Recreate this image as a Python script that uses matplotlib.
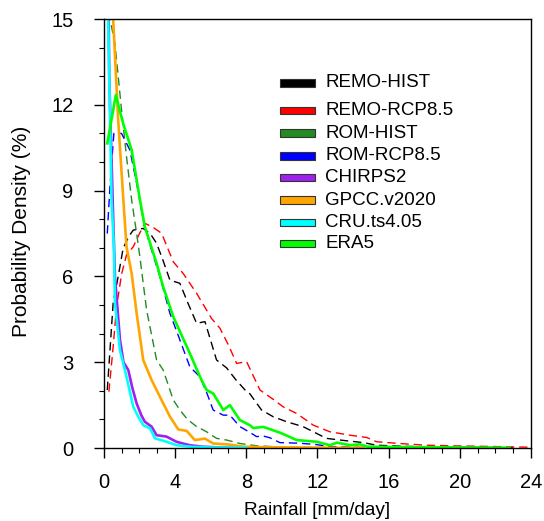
import matplotlib
matplotlib.use("Agg")
import matplotlib.pyplot as plt
from matplotlib.patches import Rectangle
from matplotlib.ticker import MultipleLocator

plt.rcParams["font.family"] = ["Liberation Sans", "DejaVu Sans"]

# --- data (rainfall mm/day, probability density %) ---
remo_hist_x = [0.19, 0.52, 0.8, 1.08, 1.4, 1.65, 2.2, 2.6, 2.96, 3.3, 3.71, 4.27, 4.7, 5.21, 5.68, 6.33,
               6.9, 7.4, 8.02, 8.2, 8.86, 9.5, 10.27, 11.19, 11.96, 12.5, 13.27, 14.6, 15.3, 17.0, 18.5,
               20.4, 22.0, 23.0]
remo_hist_y = [2.03, 5.07, 5.99, 6.98, 7.4, 7.62, 7.68, 7.5, 7.16, 6.6, 5.87, 5.76, 5.1, 4.36, 4.42, 3.08,
               2.8, 2.4, 1.97, 1.9, 1.33, 1.1, 0.92, 0.75, 0.51, 0.34, 0.28, 0.19, 0.1, 0.06, 0.04,
               0.03, 0.02, 0.01]

remo_rcp_x = [0.28, 0.5, 0.71, 1.0, 1.27, 1.65, 2.0, 2.3, 2.8, 3.24, 3.9, 4.46, 5.21, 6.05, 6.52, 7.0,
              7.46, 8.02, 8.77, 9.52, 10.08, 10.83, 11.77, 12.7, 13.83, 14.77, 15.33, 16.6, 18.1, 19.4,
              21.3, 23.0, 23.9]
remo_rcp_y = [1.97, 3.4, 4.94, 6.1, 6.75, 7.04, 7.5, 7.86, 7.7, 7.51, 6.51, 6.1, 5.41, 4.53, 4.19, 3.6,
              2.96, 3.02, 2.03, 1.7, 1.44, 1.21, 0.8, 0.57, 0.45, 0.37, 0.22, 0.16, 0.1, 0.08,
              0.06, 0.04, 0.03]

rom_hist_x = [0.2, 0.34, 0.62, 0.99, 1.27, 1.56, 1.84, 2.02, 2.4, 2.96, 3.33, 3.9, 4.27, 4.7, 5.21, 5.77,
              6.33, 6.9, 7.64, 8.58, 9.5, 10.5, 12.0, 14.0]
rom_hist_y = [16.0, 15.0, 14.15, 11.82, 10.19, 8.67, 7.5, 6.69, 4.83, 3.08, 2.73, 1.68, 1.33, 1.0, 0.75, 0.57,
              0.34, 0.28, 0.16, 0.08, 0.05, 0.03, 0.02, 0.01]

rom_rcp_x = [0.19, 0.34, 0.56, 0.99, 1.46, 1.84, 2.21, 2.59, 3.15, 3.71, 4.27, 4.83, 5.4, 5.8, 6.14, 6.71,
             7.08, 7.64, 8.2, 8.58, 8.96, 9.33, 9.89, 11.0, 11.96, 12.7, 14.0, 16.0]
rom_rcp_y = [7.5, 9.14, 11.0, 11.0, 10.42, 9.26, 7.97, 7.1, 5.99, 4.71, 3.78, 2.84, 2.49, 1.9, 1.33, 1.15,
             1.15, 0.75, 0.55, 0.4, 0.42, 0.36, 0.19, 0.17, 0.12, 0.05, 0.03, 0.01]

chirps_x = [0.1, 0.3, 0.5, 0.62, 0.9, 1.1, 1.37, 1.6, 1.84, 2.1, 2.3, 2.68, 2.96, 3.3, 3.52, 4.08, 4.5,
            4.83, 5.5, 6.5, 8.0]
chirps_y = [25.0, 13.0, 8.5, 6.0, 3.8, 3.0, 2.73, 2.1, 1.56, 1.15, 0.92, 0.75, 0.45, 0.42, 0.4, 0.22, 0.15,
            0.1, 0.05, 0.02, 0.01]

gpcc_x = [0.3, 0.52, 0.8, 1.08, 1.27, 1.56, 1.84, 2.21, 2.68, 3.15, 3.71, 4.18, 4.65, 5.11, 5.68, 6.14,
          7.08, 7.8, 9.0, 11.0, 13.0, 14.6]
gpcc_y = [19.0, 15.0, 11.5, 8.8, 7.04, 6.1, 4.71, 3.08, 2.38, 1.79, 1.1, 0.65, 0.6, 0.28, 0.33, 0.16,
          0.12, 0.05, 0.03, 0.02, 0.01, 0.01]

cru_x = [0.1, 0.24, 0.43, 0.56, 0.62, 0.9, 1.27, 1.65, 1.93, 2.21, 2.59, 2.87, 3.52, 4.08, 5.0, 6.0, 8.0]
cru_y = [22.0, 15.0, 8.67, 7.04, 5.07, 3.43, 2.49, 1.44, 1.1, 0.8, 0.69, 0.34, 0.22, 0.1, 0.04, 0.02, 0.01]

era5_x = [0.19, 0.67, 1.08, 1.56, 2.02, 2.3, 2.96, 3.33, 3.9, 4.4, 4.83, 5.4, 5.77, 6.14, 6.71, 7.08,
          7.64, 8.2, 8.39, 8.96, 9.89, 10.83, 11.96, 12.7, 13.1, 13.83, 14.4, 14.8, 16.0, 18.0, 20.0, 22.8]
era5_y = [10.65, 12.34, 11.35, 10.42, 8.7, 7.74, 6.46, 5.64, 4.59, 3.9, 3.31, 2.49, 2.03, 1.91, 1.33, 1.5,
          0.98, 0.8, 0.7, 0.74, 0.54, 0.28, 0.22, 0.1, 0.19, 0.1, 0.13, 0.05, 0.04, 0.03, 0.02, 0.01]

series = [
    ("REMO-HIST", remo_hist_x, remo_hist_y, "black", "--"),
    ("REMO-RCP8.5", remo_rcp_x, remo_rcp_y, "#ff0000", "--"),
    ("ROM-HIST", rom_hist_x, rom_hist_y, "#228b22", "--"),
    ("ROM-RCP8.5", rom_rcp_x, rom_rcp_y, "#0000ff", "--"),
    ("CHIRPS2", chirps_x, chirps_y, "#a020f0", "-"),
    ("GPCC.v2020", gpcc_x, gpcc_y, "#ffa500", "-"),
    ("CRU.ts4.05", cru_x, cru_y, "#00ffff", "-"),
    ("ERA5", era5_x, era5_y, "#00ff00", "-"),
]

fig = plt.figure(figsize=(5.44, 5.21), dpi=100)
ax = fig.add_axes([0.191, 0.140, 0.785, 0.8235])

for name, x, y, color, ls in series:
    if ls == "--":
        ax.plot(x, y, color=color, lw=1.0, linestyle=(0, (6, 3.5)))
    else:
        ax.plot(x, y, color=color, lw=1.9)

ax.set_xlim(0, 24)
ax.set_ylim(0, 15)
ax.xaxis.set_major_locator(MultipleLocator(4))
ax.xaxis.set_minor_locator(MultipleLocator(1))
ax.yaxis.set_major_locator(MultipleLocator(3))
ax.yaxis.set_minor_locator(MultipleLocator(1))
ax.tick_params(which="major", direction="out", length=7, width=1, labelsize=14.5)
ax.tick_params(which="minor", direction="out", length=3.5, width=0.8)
ax.tick_params(axis="x", which="major", pad=11)
ax.tick_params(axis="y", which="major", pad=15)
for s in ax.spines.values():
    s.set_linewidth(1.0)

ax.set_xlabel("Rainfall [mm/day]", fontsize=13.7, va="center")
ax.xaxis.set_label_coords(0.498, -0.145)
ax.set_ylabel("Probability Density (%)", fontsize=15, va="center")
ax.yaxis.set_label_coords(-0.192, 0.505)

# legend boxes drawn by hand to mimic the reference layout
rows = [0.851, 0.786, 0.734, 0.681, 0.630, 0.578, 0.526, 0.477]
for (name, x, y, color, ls), ry in zip(series, rows):
    ax.add_patch(Rectangle((0.412, ry - 0.0085), 0.082, 0.017, transform=ax.transAxes,
                           facecolor=color, edgecolor="#333333", lw=0.8, clip_on=False))
    ax.text(0.518, ry, name, transform=ax.transAxes, fontsize=13.5, va="center", ha="left")

fig.savefig("out.png", dpi=100)
